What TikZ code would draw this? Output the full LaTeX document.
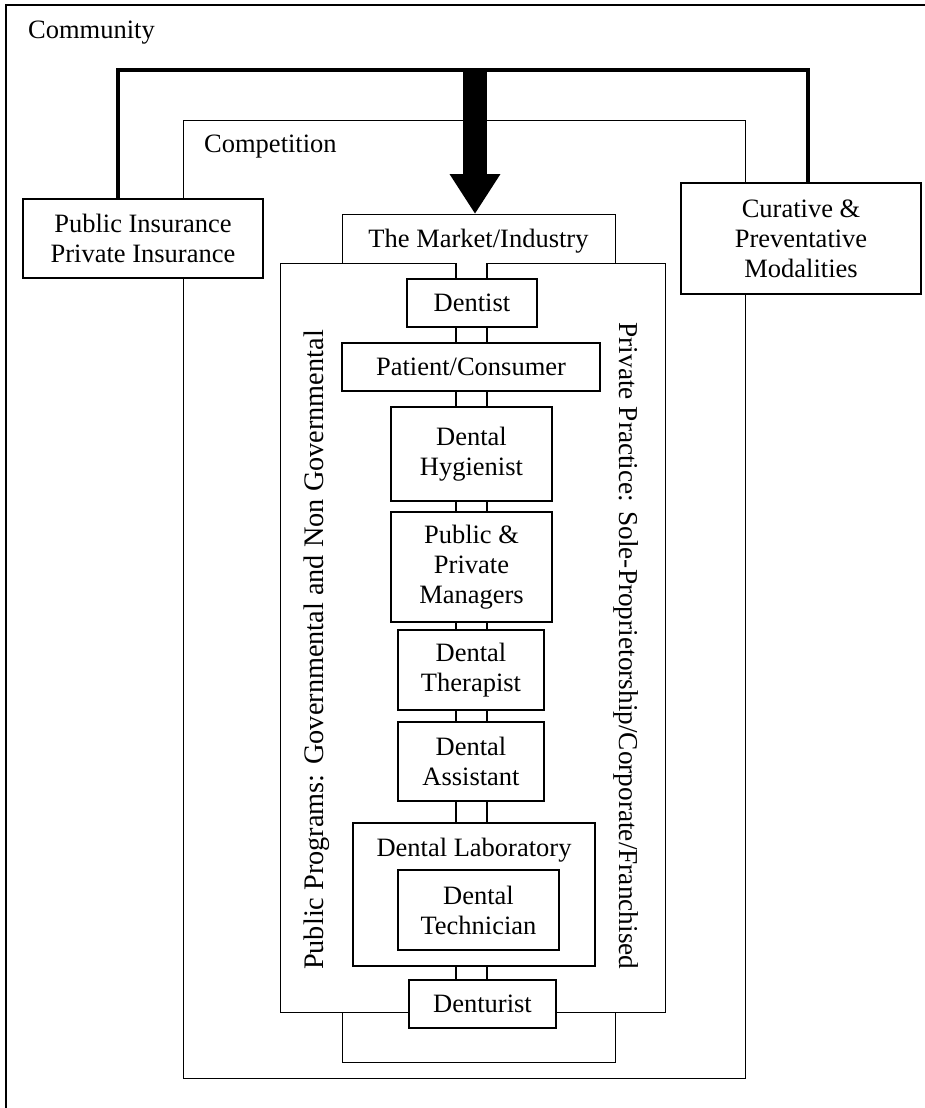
\documentclass[tikz,border=0pt]{standalone}
\usepackage{fontspec}
\setmainfont{Liberation Serif}
\usetikzlibrary{arrows.meta}
\begin{document}
\begin{tikzpicture}[x=1pt,y=-1pt,
  every node/.style={font=\fontsize{26.5}{30}\selectfont},
  box/.style={draw, fill=white, line width=1.3pt, inner sep=0pt, align=center},
  frame/.style={draw, line width=1.3pt, inner sep=0pt, anchor=north west},
  label/.style={inner sep=0pt},
  thicklink/.style={line width=4.5pt},
  pairline/.style={line width=1.3pt},
  bigarrow/.style={line width=24pt, -{Triangle[width=48pt,length=40pt]}}]
\useasboundingbox (0,0) rectangle (925,1108);
\clip (0,0) rectangle (925,1108);
% Community
\draw[line width=1.3pt] (6,5) rectangle (980,1160);
\node[label, anchor=west] (community) at (28,33) {Community};
% Competition
\node[frame, minimum width=562pt, minimum height=958pt] (competition) at (183,120) {};
\node[label, anchor=west] (comptext) at (204,147) {Competition};
% Market / Industry
\node[frame, minimum width=273pt, minimum height=848pt] (market) at (342,214) {};
\node[label] (markettext) at (478.5,241) {The Market/Industry};
% inner sector frame
\node[frame, fill=white, minimum width=385pt, minimum height=749pt] (sector) at (280,263) {};
\node[label, rotate=90, font=\fontsize{28.3}{32}\selectfont] (public) at (317,650) {Public Programs: Governmental and Non Governmental};
\node[label, rotate=-90, font=\fontsize{27.3}{31}\selectfont] (private) at (626,646) {Private Practice: Sole-Proprietorship/Corporate/Franchised};
% side boxes
\node[box, minimum width=240pt, minimum height=79pt] (insurance) at (143,238.5) {Public Insurance\\Private Insurance};
\node[box, minimum width=240pt, minimum height=111pt] (modalities) at (801,238.5) {Curative \&\\Preventative\\Modalities};
% chain of boxes
\node[box, minimum width=130pt, minimum height=48pt] (dentist) at (472,303) {Dentist};
\node[box, minimum width=258pt, minimum height=48pt] (patient) at (471,367) {Patient/Consumer};
\node[box, minimum width=161pt, minimum height=94pt] (hygienist) at (471.5,454) {Dental\\Hygienist};
\node[box, minimum width=161pt, minimum height=110pt] (managers) at (471.5,567) {Public \&\\Private\\Managers};
\node[box, minimum width=146pt, minimum height=80pt] (therapist) at (471,670) {Dental\\Therapist};
\node[box, minimum width=146pt, minimum height=79pt] (assistant) at (471,761.5) {Dental\\Assistant};
\node[box, minimum width=242pt, minimum height=143pt] (lab) at (474,894.5) {};
\node[label] (labtext) at (474,850) {Dental Laboratory};
\node[box, minimum width=161pt, minimum height=80pt] (technician) at (478.5,910) {Dental\\Technician};
\coordinate (cl) at (456,0);
\coordinate (cr) at (487,0);
% double-line connectors
\fill[white] (cl |- sector.north) ++(0,-1.5) rectangle ([yshift=0.7pt]cr |- dentist.north);
\draw[pairline] (cl |- sector.north) -- (cl |- dentist.north);
\draw[pairline] (cr |- sector.north) -- (cr |- dentist.north);
\foreach \a/\b in {dentist/patient, patient/hygienist, hygienist/managers, managers/therapist, therapist/assistant, assistant/lab}{
  \draw[pairline] (cl |- \a.south) -- (cl |- \b.north);
  \draw[pairline] (cr |- \a.south) -- (cr |- \b.north);
}
\node[box, minimum width=147pt, minimum height=48pt] (denturist) at (482.5,1004) {Denturist};
\draw[pairline] (cl |- lab.south) -- (cl |- denturist.north);
\draw[pairline] (cr |- lab.south) -- (cr |- denturist.north);
% thick feedback lines and big arrow
\coordinate (lefttop) at (118,70);
\coordinate (righttop) at (808,70);
\coordinate (junction) at (475,70);
\draw[thicklink] (lefttop |- insurance.north) -- (lefttop) -- (righttop) -- (righttop |- modalities.north);
\draw[bigarrow] ([yshift=-2pt]junction) -- (junction |- market.north);
\end{tikzpicture}
\end{document}
